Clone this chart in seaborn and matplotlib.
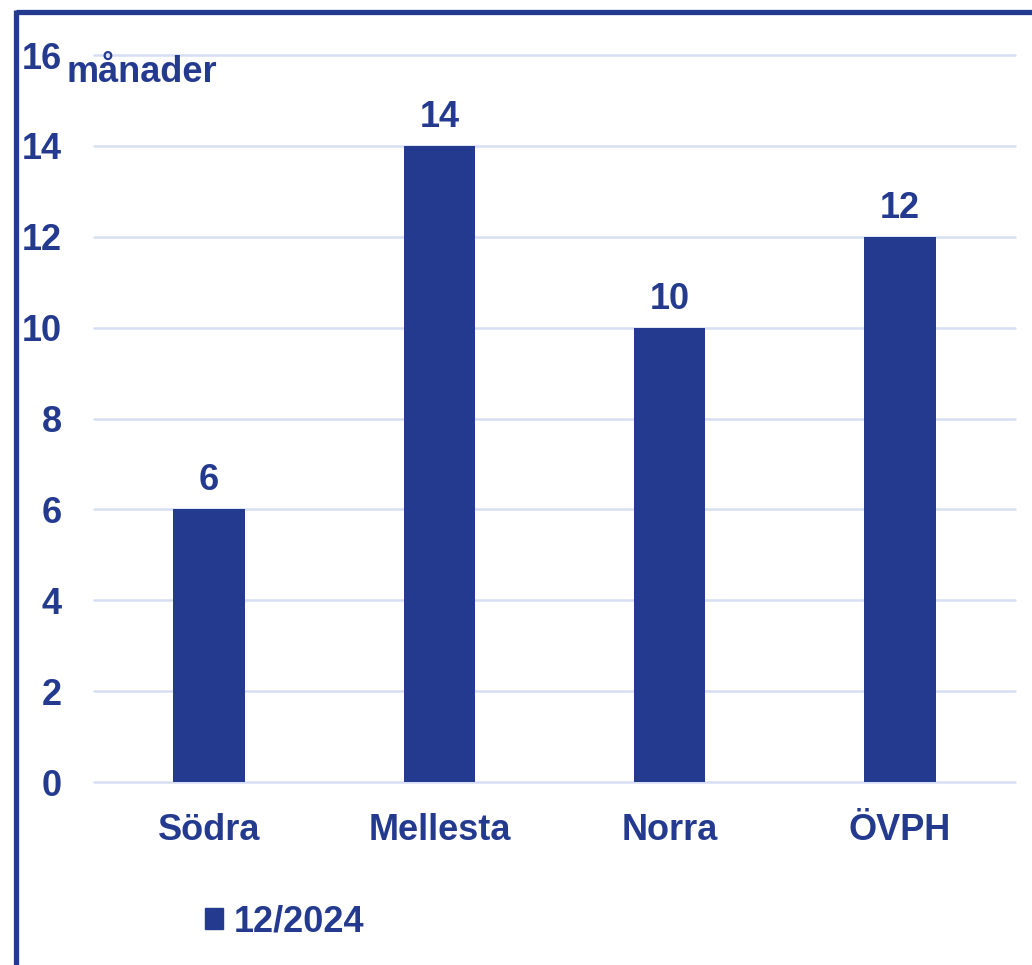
import matplotlib
matplotlib.use('Agg')

import matplotlib.pyplot as plt
import matplotlib.patches as mpatches
from matplotlib.lines import Line2D
import pandas as pd
import seaborn as sns

# Data
regions = ['Södra', 'Mellesta', 'Norra', 'ÖVPH']
months = [6, 14, 10, 12]
series_label = '12/2024'
y_ticks = [0, 2, 4, 6, 8, 10, 12, 14, 16]

navy = '#233A8F'
grid_blue = '#D6DEF4'

if __name__ == "__main__":
    sns.set_style('white')
    plt.rcParams['font.family'] = ['Liberation Sans', 'DejaVu Sans']
    plt.rcParams['font.weight'] = 'bold'

    df = pd.DataFrame({'region': regions, 'months': months})

    fig = plt.figure(figsize=(10.32, 9.65), dpi=100)
    ax = fig.add_axes([0.0911, 0.1896, 0.8924, 0.7534])

    sns.barplot(data=df, x='region', y='months', color=navy, width=0.31,
                saturation=1, linewidth=0, ax=ax, zorder=3)

    ax.set_ylim(0, 16)
    ax.set_xlim(-0.5, len(regions) - 0.5)
    ax.set_yticks(y_ticks)
    ax.set_yticklabels([str(t) for t in y_ticks])
    ax.yaxis.grid(True, color=grid_blue, linewidth=1.8, zorder=0)
    for gl in ax.get_ygridlines():
        gl.set_clip_on(False)
    ax.set_axisbelow(True)
    for s in ax.spines.values():
        s.set_visible(False)
    ax.tick_params(axis='y', length=0, pad=23, labelsize=26, labelcolor=navy)
    ax.tick_params(axis='x', length=0, pad=22, labelsize=26, labelcolor=navy)
    for lbl in ax.get_xticklabels() + ax.get_yticklabels():
        lbl.set_fontweight('bold')
    ax.set_xlabel('')
    ax.set_ylabel('')

    # Value labels
    for container in ax.containers:
        ax.bar_label(container, padding=8, fontsize=26, fontweight='bold', color=navy)

    # Unit label
    ax.text(-0.03, 1.0, 'månader', transform=ax.transAxes, ha='left', va='top',
            fontsize=26, fontweight='bold', color=navy)

    # Legend
    handle = mpatches.Patch(color=navy, label=series_label)
    fig.legend(handles=[handle], loc='center', bbox_to_anchor=(0.276, 0.045),
               frameon=False, labelcolor=navy,
               handlelength=0.5, handleheight=0.5, handletextpad=0.3,
               prop={'weight': 'bold', 'size': 26})

    # Slide frame (top and left border)
    fig.add_artist(Line2D([0.0155, 1.0], [0.9875, 0.9875], color=navy, linewidth=3.8,
                          transform=fig.transFigure, solid_capstyle='butt'))
    fig.add_artist(Line2D([0.0155, 0.0155], [0.0, 0.9895], color=navy, linewidth=3.8,
                          transform=fig.transFigure, solid_capstyle='butt'))

    fig.savefig('out.png', dpi=100)
